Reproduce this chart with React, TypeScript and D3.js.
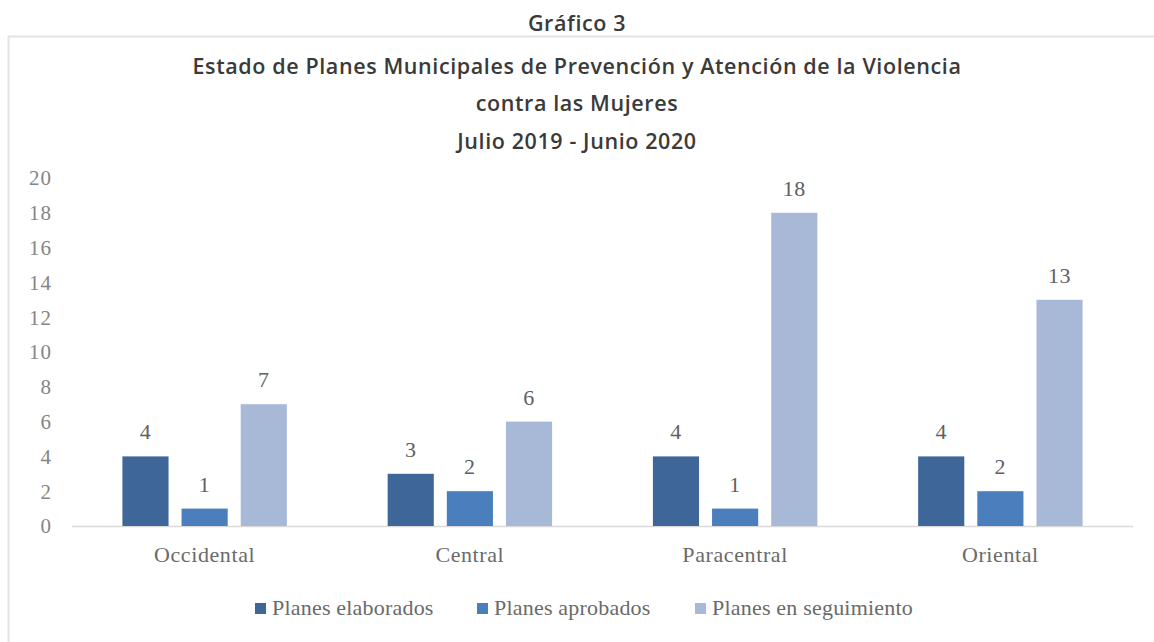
import React from "react";
import * as d3 from "d3";

const regions = ["Occidental", "Central", "Paracentral", "Oriental"];
const seriesNames = ["Planes elaborados", "Planes aprobados", "Planes en seguimiento"];
const elaborados = [4, 3, 4, 4];
const aprobados = [1, 2, 1, 2];
const seguimiento = [7, 6, 18, 13];
const yTicks = [0, 2, 4, 6, 8, 10, 12, 14, 16, 18, 20];
const titleLines = [
  "Gráfico 3",
  "Estado de Planes Municipales de Prevención y Atención de la Violencia",
  "contra las Mujeres",
  "Julio 2019 - Junio 2020",
];

const colors = ["#3f6699", "#4a7ebd", "#a8b9d8"];
const W = 1154;
const H = 642;

export default function App() {
  const series = [elaborados, aprobados, seguimiento];
  const x0 = d3.scaleBand<string>().domain(regions).range([72, 1133]).paddingInner(0.38).paddingOuter(0.19);
  const x1 = d3
    .scaleBand<string>()
    .domain(seriesNames)
    .range([0, x0.bandwidth()])
    .paddingInner(0.22)
    .paddingOuter(0);
  const y = d3.scaleLinear().domain([0, 20]).range([526, 178]);
  const serif = "'Liberation Serif', 'DejaVu Serif', serif";
  const sans = "'Open Sans', 'Noto Sans', sans-serif";
  const titleY = [31, 74, 111, 149];

  const legendX = [255, 477, 695];

  return (
    <svg
      width={W}
      height={H}
      style={{ position: "absolute", left: 0, top: 0, background: "#fff" }}
    >
      <rect x={0} y={0} width={W} height={H} fill="#fff" />
      <line x1={8.5} y1={36} x2={8.5} y2={H} stroke="#e3e3e3" strokeWidth={2} />
      <line x1={8} y1={36.5} x2={W} y2={36.5} stroke="#e3e3e3" strokeWidth={2} />
      {titleLines.map((t, i) => (
        <text
          key={i}
          x={577}
          y={titleY[i]}
          textAnchor="middle"
          fontFamily={sans}
          fontWeight={600}
          fontSize={21.5}
          letterSpacing={0.6}
          fill="#3a3a3a"
        >
          {t}
        </text>
      ))}
      {yTicks.map((t) => (
        <text
          key={t}
          x={52}
          y={y(t)}
          dy="0.35em"
          textAnchor="end"
          fontFamily={serif}
          fontSize={21}
          letterSpacing={1}
          fill="#858585"
        >
          {t}
        </text>
      ))}
      <line x1={72} y1={y(0) + 0.5} x2={1133} y2={y(0) + 0.5} stroke="#d9d9d9" strokeWidth={1.5} />
      {regions.map((r, ci) => (
        <g key={r} transform={`translate(${x0(r)},0)`}>
          {series.map((s, si) => (
            <g key={si}>
              <rect
                x={x1(seriesNames[si])}
                y={y(s[ci])}
                width={x1.bandwidth()}
                height={y(0) - y(s[ci])}
                fill={colors[si]}
              />
              <text
                x={(x1(seriesNames[si]) as number) + x1.bandwidth() / 2}
                y={y(s[ci]) - 17}
                textAnchor="middle"
                fontFamily={serif}
                fontSize={22}
                letterSpacing={0.5}
                fill="#606060"
              >
                {s[ci]}
              </text>
            </g>
          ))}
          <text
            x={x0.bandwidth() / 2}
            y={562}
            textAnchor="middle"
            fontFamily={serif}
            fontSize={22}
            letterSpacing={0.6}
            fill="#6a6a6a"
          >
            {r}
          </text>
        </g>
      ))}
      {seriesNames.map((n, i) => (
        <g key={n}>
          <rect x={legendX[i]} y={603} width={11} height={11} fill={colors[i]} />
          <text
            x={legendX[i] + 17}
            y={615}
            fontFamily={serif}
            fontSize={22}
            letterSpacing={0.2}
            fill="#6a6a6a"
          >
            {n}
          </text>
        </g>
      ))}
    </svg>
  );
}
